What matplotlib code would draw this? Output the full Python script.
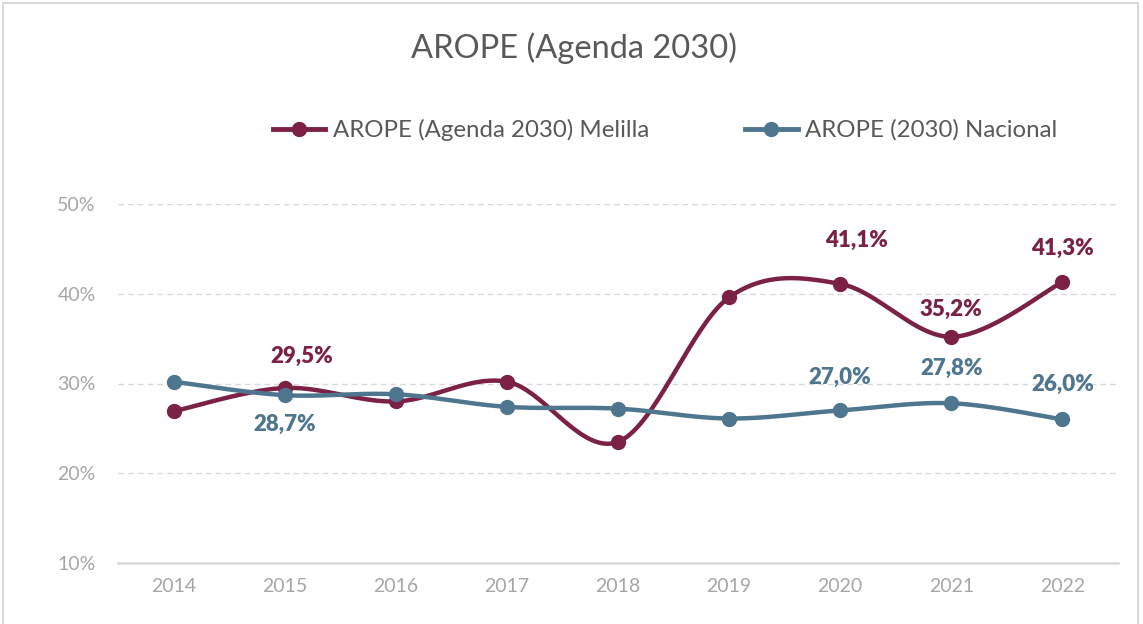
import numpy as np
import matplotlib
matplotlib.use('Agg')
import matplotlib.pyplot as plt
from matplotlib.patches import Rectangle

# Data
years = ['2014', '2015', '2016', '2017', '2018', '2019', '2020', '2021', '2022']
melilla = [26.9, 29.5, 28.0, 30.2, 23.5, 39.6, 41.1, 35.2, 41.3]
nacional = [30.2, 28.7, 28.8, 27.4, 27.2, 26.1, 27.0, 27.8, 26.0]
yticks = [10, 20, 30, 40, 50]

# which points carry a label: (vertical offset, horizontal offset) in points
melilla_labels = {1: (23, 12), 6: (31, 12), 7: (20, 0), 8: (24, 0)}
nacional_labels = {1: (-21, 0), 6: (24, 0), 7: (25, 0), 8: (25, 0)}

c_mel = '#7b2145'
c_nac = '#4e768f'
grey = '#a6a6a6'

plt.rcParams['font.family'] = ['Lato', 'DejaVu Sans']


def smooth(x, y, n=40):
    # Catmull-Rom style smoothing through the points (like Excel "smoothed line")
    x = np.asarray(x, float)
    y = np.asarray(y, float)
    px = np.concatenate([[x[0]], x, [x[-1]]])
    py = np.concatenate([[y[0]], y, [y[-1]]])
    xs, ys = [], []
    t = np.linspace(0, 1, n)
    for i in range(1, len(px) - 2):
        p0 = np.array([px[i], py[i]])
        p3 = np.array([px[i + 1], py[i + 1]])
        p1 = p0 + (np.array([px[i + 1], py[i + 1]]) - np.array([px[i - 1], py[i - 1]])) / 6
        p2 = p3 - (np.array([px[i + 2], py[i + 2]]) - np.array([px[i], py[i]])) / 6
        b = ((1 - t) ** 3)[:, None] * p0 + (3 * (1 - t) ** 2 * t)[:, None] * p1 \
            + (3 * (1 - t) * t ** 2)[:, None] * p2 + (t ** 3)[:, None] * p3
        xs.extend(b[:, 0])
        ys.extend(b[:, 1])
    return xs, ys


fig = plt.figure(figsize=(11.43, 6.24), dpi=100)
ax = fig.add_axes([118 / 1143, 61 / 624, 1000 / 1143, 359 / 624])

x = np.arange(len(years))
for vals, col, labs, name in [(melilla, c_mel, melilla_labels, 'AROPE (Agenda 2030) Melilla'),
                              (nacional, c_nac, nacional_labels, 'AROPE (2030) Nacional')]:
    sx, sy = smooth(x, vals)
    ax.plot(sx, sy, color=col, lw=3.2, solid_capstyle='round', zorder=3)
    ax.plot(x, vals, 'o', color=col, ms=10, zorder=4)
    ax.plot([], [], '-o', color=col, lw=3.5, ms=10, label=name)
    for i, (dy, dx) in labs.items():
        ax.annotate(f'{vals[i]:.1f}%'.replace('.', ','), (x[i], vals[i]),
                    xytext=(dx, dy), textcoords='offset points',
                    ha='center', va='center', color=col,
                    fontsize=16, fontweight='heavy')

ax.set_xlim(-0.5, len(years) - 0.5)
ax.set_ylim(10, 50)
ax.set_xticks(x)
ax.set_xticklabels(years)
ax.set_yticks(yticks)
ax.set_yticklabels([f'{v}%' for v in yticks])
ax.tick_params(length=0, colors=grey, labelsize=14, pad=11)
ax.tick_params(axis='y', pad=16)
for v in yticks[1:]:
    ax.axhline(v, color='#d9d9d9', lw=1, ls=(0, (4, 3)), zorder=1)
for s in ['top', 'right', 'left']:
    ax.spines[s].set_visible(False)
ax.spines['bottom'].set_color('#d9d9d9')
ax.spines['bottom'].set_linewidth(1.8)

fig.text(574 / 1143, 1 - 48 / 624, 'AROPE (Agenda 2030)', ha='center', va='center',
         fontsize=23.5, color='#595959')
leg = fig.legend(loc='center', bbox_to_anchor=(665 / 1143, 1 - 130 / 624), ncol=2,
                 frameon=False, fontsize=17.3, columnspacing=4.0, handlelength=2.2,
                 handletextpad=0.3)
for t in leg.get_texts():
    t.set_color('#595959')

fig.patches.append(Rectangle((3 / 1143, -0.01), 1135 / 1143, 1.01 - 3 / 624,
                             transform=fig.transFigure,
                             fill=False, edgecolor='#d9d9d9', lw=1.5))

fig.savefig('out.png', dpi=100)
